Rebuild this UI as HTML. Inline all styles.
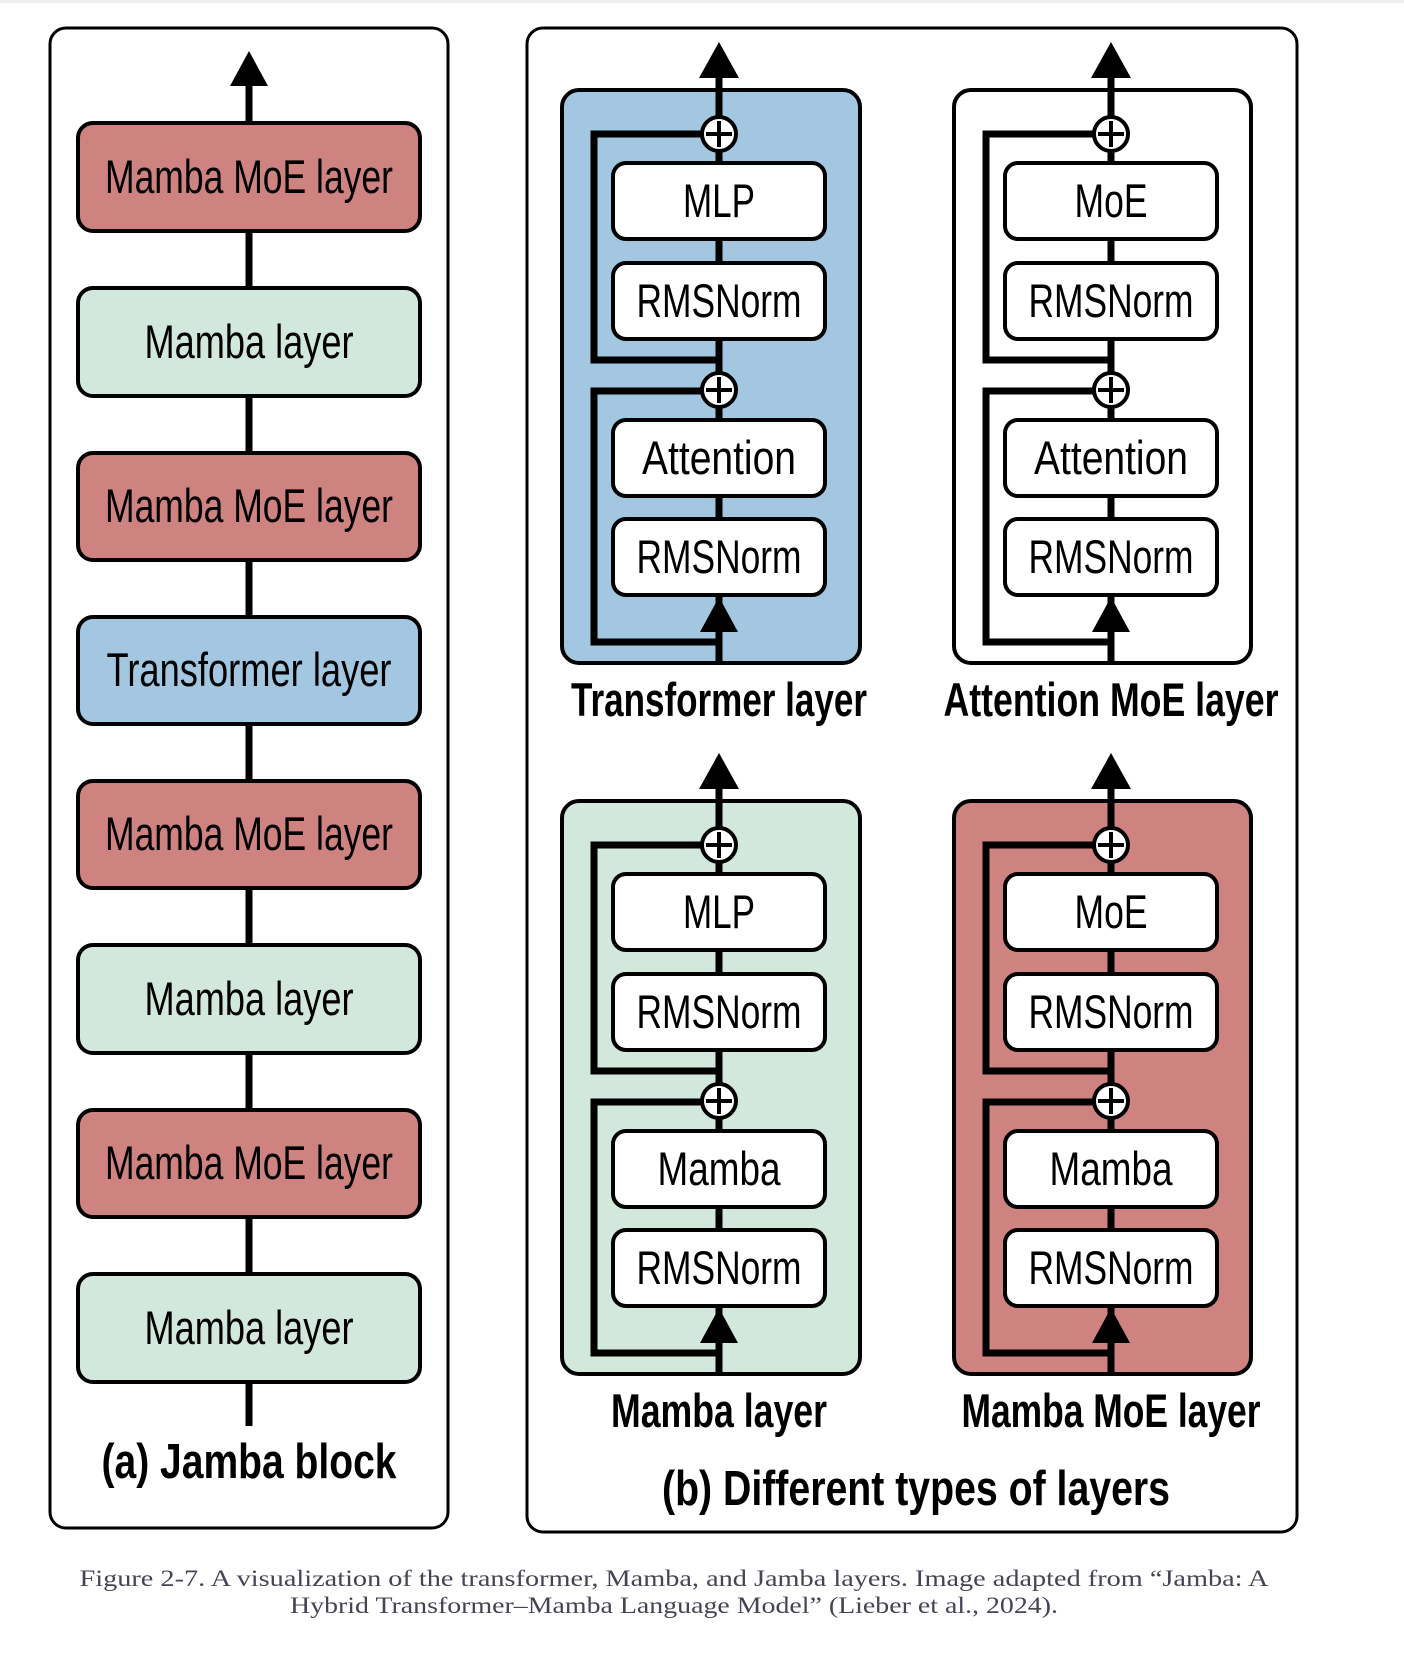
<!DOCTYPE html>
<html><head><meta charset="utf-8"><style>
html,body{margin:0;padding:0;background:#fff;}
svg{display:block;}
.t{font-family:"Liberation Sans",sans-serif;text-anchor:middle;fill:#000;}
.b{font-weight:bold;}
.cap{font-family:"Liberation Serif",serif;fill:#444452;font-size:23px;text-anchor:middle;}
</style></head><body>
<svg width="1404" height="1654" viewBox="0 0 1404 1654" xmlns="http://www.w3.org/2000/svg">
<defs>
<g id="skel">
  <line x1="719" y1="663" x2="719" y2="70" stroke="#000" stroke-width="7"/>
  <polygon points="719,42 699,78 739,78" fill="#000"/>
  <polygon points="719,597 700,632 738,632" fill="#000"/>
  <path d="M703,134 H594 V360 H719 M703,391 H594 V642 H719" fill="none" stroke="#000" stroke-width="7"/>
  <circle cx="719" cy="134" r="17" fill="#fff" stroke="#000" stroke-width="4"/>
  <path d="M706,134 H732 M719,121 V147" stroke="#000" stroke-width="4"/>
  <circle cx="719" cy="390" r="17" fill="#fff" stroke="#000" stroke-width="4"/>
  <path d="M706,390 H732 M719,377 V403" stroke="#000" stroke-width="4"/>
  <rect x="613" y="163" width="212" height="76" rx="13" fill="#fff" stroke="#000" stroke-width="4"/>
  <rect x="613" y="263" width="212" height="76" rx="13" fill="#fff" stroke="#000" stroke-width="4"/>
  <rect x="613" y="420" width="212" height="76" rx="13" fill="#fff" stroke="#000" stroke-width="4"/>
  <rect x="613" y="519" width="212" height="76" rx="13" fill="#fff" stroke="#000" stroke-width="4"/>
</g>
</defs>
<line x1="0" y1="1.5" x2="1404" y2="1.5" stroke="#eee" stroke-width="3"/>

<!-- Panel a -->
<rect x="50" y="28" width="398" height="1500" rx="16" fill="#fff" stroke="#000" stroke-width="3"/>
<line x1="249" y1="76" x2="249" y2="1426" stroke="#000" stroke-width="7"/>
<polygon points="249,51 230,86 268,86" fill="#000"/>
<g stroke="#000" stroke-width="4">
<rect x="78" y="123" width="342" height="108" rx="15" fill="#cf8381"/>
<rect x="78" y="288" width="342" height="108" rx="15" fill="#d3e8dc"/>
<rect x="78" y="453" width="342" height="107" rx="15" fill="#cf8381"/>
<rect x="78" y="617" width="342" height="107" rx="15" fill="#a3c6e1"/>
<rect x="78" y="781" width="342" height="107" rx="15" fill="#cf8381"/>
<rect x="78" y="945" width="342" height="108" rx="15" fill="#d3e8dc"/>
<rect x="78" y="1110" width="342" height="107" rx="15" fill="#cf8381"/>
<rect x="78" y="1274" width="342" height="108" rx="15" fill="#d3e8dc"/>
</g>
<g class="t" font-size="47">
<text x="249" y="193" textLength="288" lengthAdjust="spacingAndGlyphs">Mamba MoE layer</text>
<text x="249" y="358" textLength="209" lengthAdjust="spacingAndGlyphs">Mamba layer</text>
<text x="249" y="522" textLength="288" lengthAdjust="spacingAndGlyphs">Mamba MoE layer</text>
<text x="249" y="686" textLength="285" lengthAdjust="spacingAndGlyphs">Transformer layer</text>
<text x="249" y="850" textLength="288" lengthAdjust="spacingAndGlyphs">Mamba MoE layer</text>
<text x="249" y="1015" textLength="209" lengthAdjust="spacingAndGlyphs">Mamba layer</text>
<text x="249" y="1179" textLength="288" lengthAdjust="spacingAndGlyphs">Mamba MoE layer</text>
<text x="249" y="1344" textLength="209" lengthAdjust="spacingAndGlyphs">Mamba layer</text>
</g>
<text class="t b" x="249" y="1478" font-size="49" textLength="295" lengthAdjust="spacingAndGlyphs">(a) Jamba block</text>

<!-- Panel b -->
<rect x="527" y="28" width="770" height="1504" rx="16" fill="#fff" stroke="#000" stroke-width="3"/>
<rect x="562" y="90" width="298" height="573" rx="17" fill="#a3c6e1" stroke="#000" stroke-width="4"/>
<rect x="954" y="90" width="297" height="573" rx="17" fill="#fff" stroke="#000" stroke-width="4"/>
<rect x="562" y="801" width="298" height="573" rx="17" fill="#d3e8dc" stroke="#000" stroke-width="4"/>
<rect x="954" y="801" width="297" height="573" rx="17" fill="#cf8381" stroke="#000" stroke-width="4"/>
<use href="#skel"/>
<use href="#skel" transform="translate(392,0)"/>
<use href="#skel" transform="translate(0,711)"/>
<use href="#skel" transform="translate(392,711)"/>

<g class="t" font-size="47">
<text x="719" y="217" textLength="72" lengthAdjust="spacingAndGlyphs">MLP</text>
<text x="719" y="317" textLength="165" lengthAdjust="spacingAndGlyphs">RMSNorm</text>
<text x="719" y="474" textLength="154" lengthAdjust="spacingAndGlyphs">Attention</text>
<text x="719" y="573" textLength="165" lengthAdjust="spacingAndGlyphs">RMSNorm</text>

<text x="1111" y="217" textLength="73" lengthAdjust="spacingAndGlyphs">MoE</text>
<text x="1111" y="317" textLength="165" lengthAdjust="spacingAndGlyphs">RMSNorm</text>
<text x="1111" y="474" textLength="154" lengthAdjust="spacingAndGlyphs">Attention</text>
<text x="1111" y="573" textLength="165" lengthAdjust="spacingAndGlyphs">RMSNorm</text>

<text x="719" y="928" textLength="72" lengthAdjust="spacingAndGlyphs">MLP</text>
<text x="719" y="1028" textLength="165" lengthAdjust="spacingAndGlyphs">RMSNorm</text>
<text x="719" y="1185" textLength="123" lengthAdjust="spacingAndGlyphs">Mamba</text>
<text x="719" y="1284" textLength="165" lengthAdjust="spacingAndGlyphs">RMSNorm</text>

<text x="1111" y="928" textLength="73" lengthAdjust="spacingAndGlyphs">MoE</text>
<text x="1111" y="1028" textLength="165" lengthAdjust="spacingAndGlyphs">RMSNorm</text>
<text x="1111" y="1185" textLength="123" lengthAdjust="spacingAndGlyphs">Mamba</text>
<text x="1111" y="1284" textLength="165" lengthAdjust="spacingAndGlyphs">RMSNorm</text>
</g>
<g class="t b" font-size="47">
<text x="719" y="716" textLength="296" lengthAdjust="spacingAndGlyphs">Transformer layer</text>
<text x="1111" y="716" textLength="335" lengthAdjust="spacingAndGlyphs">Attention MoE layer</text>
<text x="719" y="1427" textLength="216" lengthAdjust="spacingAndGlyphs">Mamba layer</text>
<text x="1111" y="1427" textLength="299" lengthAdjust="spacingAndGlyphs">Mamba MoE layer</text>
</g>
<text class="t b" x="916" y="1505" font-size="49" textLength="508" lengthAdjust="spacingAndGlyphs">(b) Different types of layers</text>

<text class="cap" x="674" y="1586" textLength="1189" lengthAdjust="spacingAndGlyphs">Figure 2-7. A visualization of the transformer, Mamba, and Jamba layers. Image adapted from “Jamba: A</text>
<text class="cap" x="674" y="1613" textLength="768" lengthAdjust="spacingAndGlyphs">Hybrid Transformer–Mamba Language Model” (Lieber et al., 2024).</text>
</svg>
</body></html>
